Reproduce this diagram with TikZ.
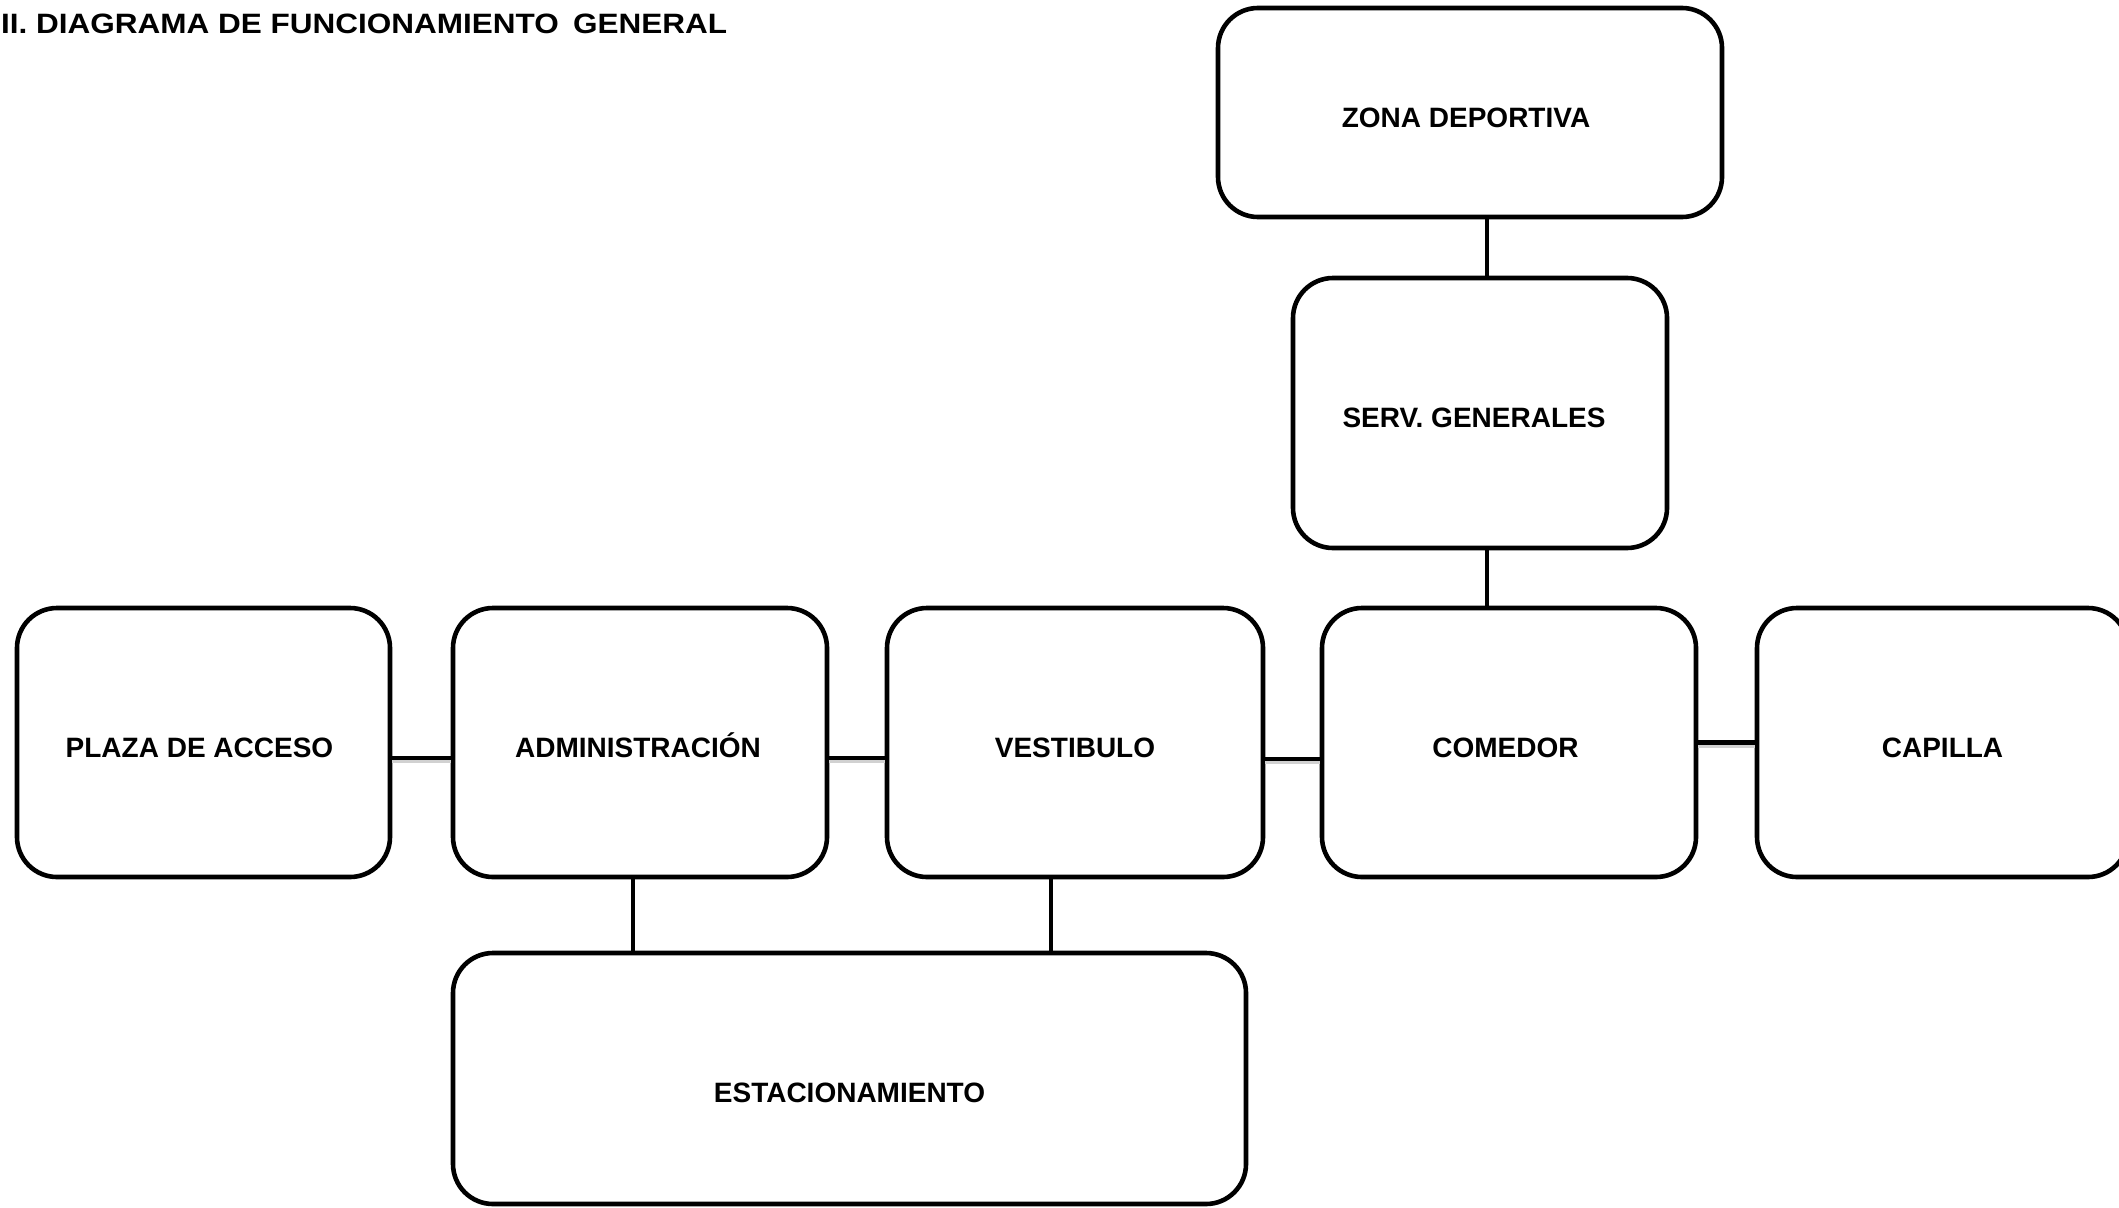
\documentclass[tikz,border=0pt]{standalone}
\usepackage{fontspec}
\setmainfont{Liberation Sans}
\usepackage{graphicx}
\newcommand{\txtleft}[1]{\hspace*{-#1}}
\tikzset{
  zone/.style={draw=black, line width=4.6pt, rounded corners=40pt, rectangle,
    inner sep=0pt, text height=29pt, text depth=0pt,
    font=\fontsize{28pt}{32pt}\selectfont\bfseries},
  link/.style={draw=black, line width=4.4pt},
  linkshade/.style={draw=black!18, line width=3.5pt},
}
\begin{document}
\begin{tikzpicture}[x=1pt,y=-1pt]
\clip (0,0) rectangle (2119,1207);
\useasboundingbox (0,0) rectangle (2119,1207);

\node[anchor=base west, inner sep=0pt, font=\fontsize{28pt}{32pt}\selectfont\bfseries] (title) at (1,34)
  {\scalebox{1.125}[1]{II. DIAGRAMA DE FUNCIONAMIENTO\hspace{0.45em}GENERAL}};

\node[zone, minimum width=504pt, minimum height=209pt] (zona) at (1470,112.5) {\txtleft{8pt}ZONA DEPORTIVA};
\node[zone, minimum width=374pt, minimum height=270pt] (serv) at (1480,413) {\txtleft{12pt}SERV. GENERALES};
\node[zone, minimum width=373pt, minimum height=269pt] (plaza) at (203.5,742.5) {\txtleft{8pt}PLAZA DE ACCESO};
\node[zone, minimum width=374pt, minimum height=269pt] (admin) at (640,742.5) {\txtleft{4pt}ADMINISTRACIÓN};
\node[zone, minimum width=376pt, minimum height=269pt] (vest) at (1075,742.5) {VESTIBULO};
\node[zone, minimum width=374pt, minimum height=269pt] (comedor) at (1509,742.5) {\txtleft{7pt}COMEDOR};
\node[zone, minimum width=371pt, minimum height=269pt] (capilla) at (1942.5,742.5) {CAPILLA};
\node[zone, minimum width=793pt, minimum height=251pt, text height=47pt] (estac) at (849.5,1078.5) {ESTACIONAMIENTO};

\coordinate (vx) at (1487,0);

% soft shade under horizontal connectors
\draw[linkshade] ([yshift=-19pt]plaza.east) -- ([yshift=-19pt]admin.west);
\draw[linkshade] ([yshift=-19pt]admin.east) -- ([yshift=-19pt]vest.west);
\draw[linkshade] ([yshift=-20pt]vest.east) -- ([yshift=-20pt]comedor.west);
\draw[linkshade] ([yshift=-4pt]comedor.east) -- ([yshift=-4pt]capilla.west);

% connectors
\draw[link] (zona.south -| vx) -- (serv.north -| vx);
\draw[link] (serv.south -| vx) -- (comedor.north -| vx);
\draw[link] ([yshift=-15.5pt]plaza.east) -- ([yshift=-15.5pt]admin.west);
\draw[link] ([yshift=-15.5pt]admin.east) -- ([yshift=-15.5pt]vest.west);
\draw[link] ([yshift=-16.5pt]vest.east) -- ([yshift=-16.5pt]comedor.west);
\draw[link] (comedor.east) -- (capilla.west);
\draw[link] ([xshift=-7pt]admin.south) -- ([xshift=-7pt]admin.south |- estac.north);
\draw[link] ([xshift=-24pt]vest.south) -- ([xshift=-24pt]vest.south |- estac.north);
\end{tikzpicture}
\end{document}
